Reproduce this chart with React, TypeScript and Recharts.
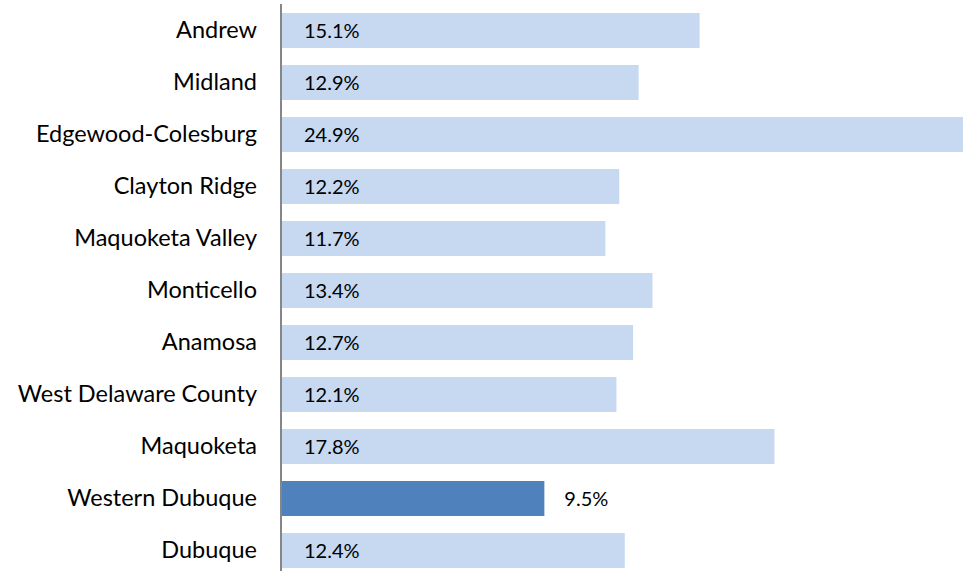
import { Bar, BarChart, Cell, LabelList, XAxis, YAxis } from "recharts";

const districts = [
  "Andrew",
  "Midland",
  "Edgewood-Colesburg",
  "Clayton Ridge",
  "Maquoketa Valley",
  "Monticello",
  "Anamosa",
  "West Delaware County",
  "Maquoketa",
  "Western Dubuque",
  "Dubuque",
];
const rates = [15.1, 12.9, 24.9, 12.2, 11.7, 13.4, 12.7, 12.1, 17.8, 9.5, 12.4];
const highlighted = "Western Dubuque";

const data = districts.map((name, i) => ({ name, rate: rates[i] }));

const FONT = "Lato, 'Open Sans', sans-serif";

const renderLabel = (props: any) => {
  const { x, y, width, height, value, index } = props;
  const outside = districts[index] === highlighted;
  return (
    <text
      x={outside ? x + width + 20 : x + 23}
      y={y + height / 2}
      dy={7}
      fontSize={20}
      fontFamily={FONT}
      fill="#000"
    >
      {`${value.toFixed(1)}%`}
    </text>
  );
};

const App = () => {
  return (
    <div style={{ position: "absolute", left: 0, top: 0 }}>
      <BarChart
        width={963}
        height={580}
        data={data}
        layout="vertical"
        margin={{ top: 4, right: 0, bottom: 4, left: 0 }}
      >
        <XAxis type="number" domain={[0, 24.6]} allowDataOverflow hide />
        <YAxis
          type="category"
          dataKey="name"
          width={281}
          axisLine={{ stroke: "#868686", strokeWidth: 2 }}
          tickLine={false}
          tickMargin={18}
          tick={{ fill: "#000", fontSize: 23.5, fontFamily: FONT }}
        />
        <Bar dataKey="rate" barSize={35} isAnimationActive={false}>
          {data.map((d) => (
            <Cell
              key={d.name}
              fill={d.name === highlighted ? "#4F81BD" : "#C6D9F1"}
            />
          ))}
          <LabelList dataKey="rate" content={renderLabel} />
        </Bar>
      </BarChart>
    </div>
  );
};

export default App;
